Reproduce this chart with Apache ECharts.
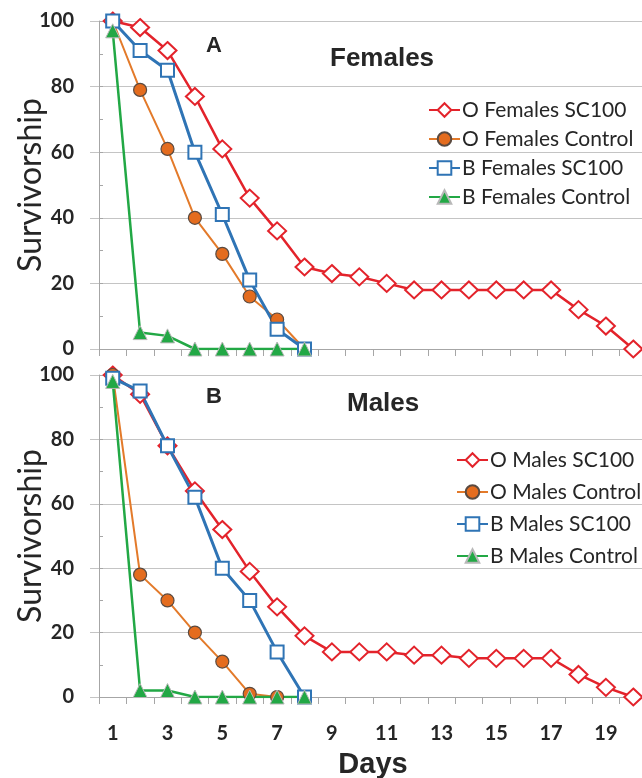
<!DOCTYPE html>
<html>
<head>
<meta charset="utf-8">
<script src="https://cdn.jsdelivr.net/npm/echarts@6/dist/echarts.min.js"></script>
<style>
html, body { margin: 0; padding: 0; background: #fff; }
#chart { width: 642px; height: 778px; }
</style>
</head>
<body>
<div id="chart"></div>
<script>
// days 1..20
const days = ['1', '2', '3', '4', '5', '6', '7', '8', '9', '10', '11', '12', '13', '14', '15', '16', '17', '18', '19', '20']

// panel A - females
const oFemalesSC100 = [100, 98, 91, 77, 61, 46, 36, 25, 23, 22, 20, 18, 18, 18, 18, 18, 18, 12, 7, 0]
const oFemalesControl = [100, 79, 61, 40, 29, 16, 9, 0]
const bFemalesSC100 = [100, 91, 85, 60, 41, 21, 6, 0]
const bFemalesControl = [97, 5, 4, 0, 0, 0, 0, 0]

// panel B - males
const oMalesSC100 = [100, 94, 78, 64, 52, 39, 28, 19, 14, 14, 14, 13, 13, 12, 12, 12, 12, 7, 3, 0]
const oMalesControl = [100, 38, 30, 20, 11, 1, 0, 0]
const bMalesSC100 = [99, 95, 78, 62, 40, 30, 14, 0]
const bMalesControl = [98, 2, 2, 0, 0, 0, 0, 0]

const RED = '#e3232b'
const ORANGE = '#e46c1e'
const BLUE = '#2f74b5'
const GREEN = '#22a845'
const AXIS_GRAY = '#a6a6a6'
const GRID_GRAY = '#c4c4c4'

const chart = echarts.init(document.getElementById('chart'))

function xAxisFor(gridIndex, showLabels) {
  return {
    type: 'category',
    gridIndex: gridIndex,
    data: days,
    boundaryGap: true,
    axisLine: { lineStyle: { color: AXIS_GRAY, width: 1 } },
    axisTick: { show: true, interval: 0, length: 7, lineStyle: { color: AXIS_GRAY } },
    axisLabel: {
      show: showLabels,
      interval: 1,
      margin: 27,
      color: '#262626',
      fontFamily: 'Lato',
      fontWeight: 'bold',
      fontSize: 20
    },
    splitLine: { show: false },
    name: showLabels ? 'Days' : '',
    nameLocation: 'middle',
    nameGap: 53,
    nameMoveOverlap: false,
    nameTextStyle: { color: '#262626', fontFamily: 'Liberation Sans', fontWeight: 'bold', fontSize: 29 }
  }
}

function yAxisFor(gridIndex) {
  return {
    type: 'value',
    gridIndex: gridIndex,
    min: 0,
    max: 100,
    interval: 20,
    axisLine: { show: true, lineStyle: { color: AXIS_GRAY } },
    axisTick: { show: true, length: 9, lineStyle: { color: GRID_GRAY } },
    axisLabel: { margin: 25, color: '#262626', fontFamily: 'Lato', fontWeight: 'bold', fontSize: 20 },
    splitLine: { show: true, lineStyle: { color: GRID_GRAY, width: 1 } },
    name: 'Survivorship',
    nameLocation: 'middle',
    nameRotate: 90,
    nameGap: 52,
    nameMoveOverlap: false,
    nameTextStyle: { color: '#262626', fontFamily: 'Lato', fontSize: 32 }
  }
}

// short inner ticks at the odd tens
function minorYAxisFor(gridIndex) {
  return {
    type: 'value',
    gridIndex: gridIndex,
    position: 'left',
    offset: 0,
    min: 0,
    max: 100,
    interval: 10,
    axisLine: { show: false },
    axisTick: { show: true, inside: true, length: 4, lineStyle: { color: AXIS_GRAY } },
    axisLabel: { show: false },
    splitLine: { show: false }
  }
}

function lineSeries(name, data, idx, kind) {
  const s = {
    name: name,
    type: 'line',
    xAxisIndex: idx,
    yAxisIndex: idx * 2,
    data: data,
    showAllSymbol: true,
    animation: false,
    emphasis: { disabled: true }
  }
  if (kind === 'oSC') {
    s.symbol = 'diamond'
    s.symbolSize = [18, 17]
    s.itemStyle = { color: '#fff', borderColor: RED, borderWidth: 2 }
    s.lineStyle = { color: RED, width: 2.5 }
  } else if (kind === 'oCtl') {
    s.symbol = 'circle'
    s.symbolSize = 13
    s.itemStyle = { color: ORANGE, borderColor: '#5a4a40', borderWidth: 1.2 }
    s.lineStyle = { color: '#e37a2a', width: 2 }
  } else if (kind === 'bSC') {
    s.symbol = 'rect'
    s.symbolSize = 13
    s.itemStyle = { color: '#fff', borderColor: BLUE, borderWidth: 2 }
    s.lineStyle = { color: BLUE, width: 3 }
  } else {
    s.symbol = 'triangle'
    s.symbolSize = 14
    s.itemStyle = { color: GREEN, borderColor: '#b8b8b8', borderWidth: 1 }
    s.lineStyle = { color: GREEN, width: 2.5 }
  }
  return s
}

function legendFor(names, left, top, gap) {
  return {
    orient: 'vertical',
    left: left,
    top: top,
    itemWidth: 31,
    itemHeight: 17,
    itemGap: gap,
    data: names,
    textStyle: { color: '#262626', fontFamily: 'Lato', fontSize: 21, lineHeight: 22, padding: [0, 0, 0, -3] }
  }
}

const option = {
  backgroundColor: '#fff',
  animation: false,
  title: [
    { text: 'A', left: 201, top: 30, textStyle: { fontFamily: 'Liberation Sans', fontWeight: 'bold', fontSize: 22, color: '#262626' } },
    { text: 'Females', left: 325, top: 41, textStyle: { fontFamily: 'Liberation Sans', fontWeight: 'bold', fontSize: 26, color: '#262626' } },
    { text: 'B', left: 201, top: 381, textStyle: { fontFamily: 'Liberation Sans', fontWeight: 'bold', fontSize: 22, color: '#262626' } },
    { text: 'Males', left: 342, top: 386, textStyle: { fontFamily: 'Liberation Sans', fontWeight: 'bold', fontSize: 26, color: '#262626' } }
  ],
  legend: [
    legendFor(['O Females SC100', 'O Females Control', 'B Females SC100', 'B Females Control'], 423, 94, 7),
    legendFor(['O Males SC100', 'O Males Control', 'B Males SC100', 'B Males Control'], 451, 444, 10)
  ],
  grid: [
    { left: 99, top: 21, width: 548, height: 328, outerBoundsMode: 'none' },
    { left: 99, top: 375, width: 548, height: 322, outerBoundsMode: 'none' }
  ],
  xAxis: [xAxisFor(0, false), xAxisFor(1, true)],
  yAxis: [yAxisFor(0), minorYAxisFor(0), yAxisFor(1), minorYAxisFor(1)],
  series: [
    lineSeries('O Females SC100', oFemalesSC100, 0, 'oSC'),
    lineSeries('O Females Control', oFemalesControl, 0, 'oCtl'),
    lineSeries('B Females SC100', bFemalesSC100, 0, 'bSC'),
    lineSeries('B Females Control', bFemalesControl, 0, 'bCtl'),
    lineSeries('O Males SC100', oMalesSC100, 1, 'oSC'),
    lineSeries('O Males Control', oMalesControl, 1, 'oCtl'),
    lineSeries('B Males SC100', bMalesSC100, 1, 'bSC'),
    lineSeries('B Males Control', bMalesControl, 1, 'bCtl')
  ]
}

chart.setOption(option)
</script>
</body>
</html>
